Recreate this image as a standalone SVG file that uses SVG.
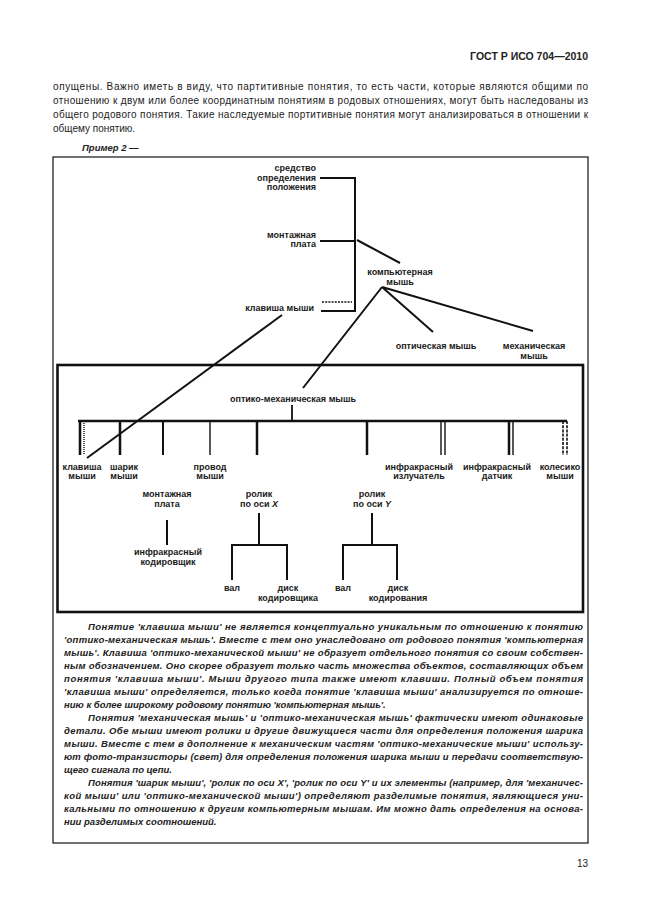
<svg xmlns="http://www.w3.org/2000/svg" width="646" height="913" viewBox="0 0 646 913">
<style>
.p{font-family:"Liberation Sans",Arial,sans-serif;font-size:10px;fill:#222}
.h{font-family:"Liberation Sans",Arial,sans-serif;font-size:10.5px;font-weight:bold;fill:#222}
.ex{font-family:"Liberation Sans",Arial,sans-serif;font-size:9.5px;font-weight:bold;font-style:italic;fill:#222}
.n{font-family:"Liberation Sans",Arial,sans-serif;font-size:9px;font-weight:bold;fill:#1a1a1a}
.t{font-family:"Liberation Sans",Arial,sans-serif;font-size:9.5px;font-weight:bold;font-style:italic;fill:#222}
.c{stroke:#111;fill:none;stroke-linecap:butt}
</style>
<rect width="646" height="913" fill="#fff"/>
<text class="h" x="588" y="60" text-anchor="end">ГОСТ Р ИСО 704—2010</text>
<g id="intro">
<text class="p" x="53" y="90" textLength="535" lengthAdjust="spacing">опущены. Важно иметь в виду, что партитивные понятия, то есть части, которые являются общими по</text>
<text class="p" x="53" y="104" textLength="535" lengthAdjust="spacing">отношению к двум или более координатным понятиям в родовых отношениях, могут быть наследованы из</text>
<text class="p" x="53" y="118" textLength="535" lengthAdjust="spacing">общего родового понятия. Такие наследуемые портитивные понятия могут анализироваться в отношении к</text>
<text class="p" x="53" y="132">общему понятию.</text>
<text class="ex" x="82" y="151">Пример 2 —</text>
</g>
<rect id="outer-box" x="53" y="157" width="535" height="686" fill="none" stroke="#111" stroke-width="1.2"/>
<rect id="inner-box" x="57.5" y="365" width="525.5" height="247" fill="none" stroke="#111" stroke-width="2.6"/>
<g id="connectors">
<path class="c" stroke-width="2" d="M320 178H355V311H321"/>
<path class="c" stroke-width="2" d="M320 241H355"/>
<path class="c" stroke-width="1.6" stroke-dasharray="2,1.2" d="M322 302H352"/>
<path class="c" stroke-width="2" d="M357 240L400 263"/>
<path class="c" stroke-width="2" d="M382 287L303 388M382 287L433 332M382 287L533 331"/>
<path class="c" stroke-width="2" d="M282 315L87 458"/>
<path class="c" stroke-width="1.8" d="M292 405V421"/>
<path class="c" stroke-width="2.5" d="M78 421H567"/>
<path class="c" stroke-width="2.5" d="M80 421V455M120 421V455M257 421V455M367 421V455M509 421V455"/>
<path class="c" stroke-width="2" d="M163 421V455"/>
<path class="c" stroke-width="1.4" d="M210 421V455M441 421V455M445 421V455M513 421V455"/>
<path class="c" stroke-width="1.4" stroke-dasharray="1,1" d="M84 421V455"/>
<path class="c" stroke-width="1.6" stroke-dasharray="3,1.2" d="M563 421V455M567 421V455"/>
<path class="c" stroke-width="2" d="M167 520V545"/>
<path class="c" stroke-width="2" d="M259 513V545M232 580V545H287V580"/>
<path class="c" stroke-width="2" d="M372 513V545M343 580V545H397V580"/>
</g>
<g id="n-sredstvo"><text class="n" x="316" y="171" text-anchor="end">средство</text><text class="n" x="316" y="181" text-anchor="end">определения</text><text class="n" x="316" y="190" text-anchor="end">положения</text></g>
<g id="n-plata"><text class="n" x="316" y="238" text-anchor="end">монтажная</text><text class="n" x="316" y="247" text-anchor="end">плата</text></g>
<g id="n-komp"><text class="n" x="400" y="275" text-anchor="middle">компьютерная</text><text class="n" x="400" y="285" text-anchor="middle">мышь</text></g>
<g id="n-klav-top"><text class="n" x="314" y="311" text-anchor="end">клавиша мыши</text></g>
<g id="n-opt"><text class="n" x="436" y="349" text-anchor="middle">оптическая мышь</text></g>
<g id="n-mech"><text class="n" x="534" y="349" text-anchor="middle">механическая</text><text class="n" x="534" y="359" text-anchor="middle">мышь</text></g>
<g id="n-optmech"><text class="n" x="293" y="402" text-anchor="middle">оптико-механическая мышь</text></g>
<g id="n-klav"><text class="n" x="82" y="470" text-anchor="middle">клавиша</text><text class="n" x="82" y="479" text-anchor="middle">мыши</text></g>
<g id="n-sharik"><text class="n" x="124" y="470" text-anchor="middle">шарик</text><text class="n" x="124" y="479" text-anchor="middle">мыши</text></g>
<g id="n-provod"><text class="n" x="210" y="470" text-anchor="middle">провод</text><text class="n" x="210" y="479" text-anchor="middle">мыши</text></g>
<g id="n-izl"><text class="n" x="419" y="470" text-anchor="middle">инфракрасный</text><text class="n" x="419" y="479" text-anchor="middle">излучатель</text></g>
<g id="n-dat"><text class="n" x="497" y="470" text-anchor="middle">инфракрасный</text><text class="n" x="497" y="479" text-anchor="middle">датчик</text></g>
<g id="n-kol"><text class="n" x="560" y="470" text-anchor="middle">колесико</text><text class="n" x="560" y="479" text-anchor="middle">мыши</text></g>
<g id="n-plata2"><text class="n" x="167" y="497" text-anchor="middle">монтажная</text><text class="n" x="167" y="507" text-anchor="middle">плата</text></g>
<g id="n-kod"><text class="n" x="168" y="555" text-anchor="middle">инфракрасный</text><text class="n" x="168" y="565" text-anchor="middle">кодировщик</text></g>
<g id="n-rolx"><text class="n" x="259" y="497" text-anchor="middle">ролик</text><text class="n" x="259" y="507" text-anchor="middle">по оси <tspan font-style="italic">X</tspan></text></g>
<g id="n-roly"><text class="n" x="372" y="497" text-anchor="middle">ролик</text><text class="n" x="372" y="507" text-anchor="middle">по оси <tspan font-style="italic">Y</tspan></text></g>
<g id="n-valx"><text class="n" x="232" y="591" text-anchor="middle">вал</text></g>
<g id="n-diskx"><text class="n" x="288" y="591" text-anchor="middle">диск</text><text class="n" x="288" y="601" text-anchor="middle">кодировщика</text></g>
<g id="n-valy"><text class="n" x="343" y="591" text-anchor="middle">вал</text></g>
<g id="n-disky"><text class="n" x="398" y="591" text-anchor="middle">диск</text><text class="n" x="398" y="601" text-anchor="middle">кодирования</text></g>
<g id="explanation">
<text class="t" x="88" y="630" textLength="495" lengthAdjust="spacing">Понятие 'клавиша мыши' не является концептуально уникальным по отношению к понятию</text>
<text class="t" x="64" y="643" textLength="519" lengthAdjust="spacing">'оптико-механическая мышь'. Вместе с тем оно унаследовано от родового понятия 'компьютерная</text>
<text class="t" x="64" y="656" textLength="519" lengthAdjust="spacing">мышь'. Клавиша 'оптико-механической мыши' не образует отдельного понятия со своим собствен-</text>
<text class="t" x="64" y="669" textLength="519" lengthAdjust="spacing">ным обозначением. Оно скорее образует только часть множества объектов, составляющих объем</text>
<text class="t" x="64" y="682" textLength="519" lengthAdjust="spacing">понятия 'клавиша мыши'.  Мыши  другого  типа  также имеют клавиши. Полный объем понятия</text>
<text class="t" x="64" y="695" textLength="519" lengthAdjust="spacing">'клавиша мыши'  определяется,  только  когда  понятие 'клавиша мыши' анализируется по отноше-</text>
<text class="t" x="64" y="708">нию к более широкому родовому понятию 'компьютерная мышь'.</text>
<text class="t" x="88" y="721" textLength="495" lengthAdjust="spacing">Понятия 'механическая мышь' и 'оптико-механическая мышь' фактически имеют одинаковые</text>
<text class="t" x="64" y="734" textLength="519" lengthAdjust="spacing">детали. Обе мыши имеют ролики и другие движущиеся части для определения положения шарика</text>
<text class="t" x="64" y="747" textLength="519" lengthAdjust="spacing">мыши. Вместе с тем в дополнение к механическим частям 'оптико-механические мыши' использу-</text>
<text class="t" x="64" y="760" textLength="519" lengthAdjust="spacing">ют фото-транзисторы (свет) для определения положения шарика мыши и передачи соответствую-</text>
<text class="t" x="64" y="773">щего сигнала по цепи.</text>
<text class="t" x="88" y="786" textLength="495" lengthAdjust="spacing">Понятия 'шарик мыши', 'ролик по оси X', 'ролик по оси Y' и их элементы (например, для 'механичес-</text>
<text class="t" x="64" y="799" textLength="519" lengthAdjust="spacing">кой мыши' или 'оптико-механической мыши')  определяют  разделимые  понятия, являющиеся уни-</text>
<text class="t" x="64" y="812" textLength="519" lengthAdjust="spacing">кальными по отношению к другим компьютерным мышам. Им можно дать определения на основа-</text>
<text class="t" x="64" y="825">нии разделимых соотношений.</text>
</g>
<text class="p" x="588" y="867" text-anchor="end">13</text>
</svg>
